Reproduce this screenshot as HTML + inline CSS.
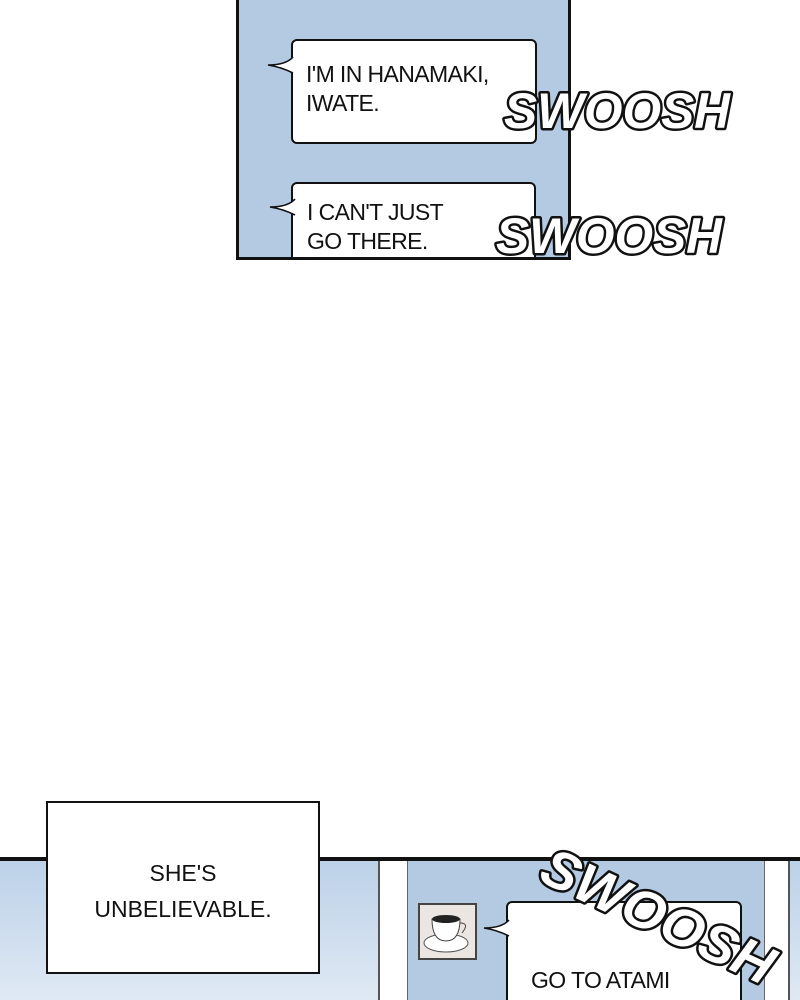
<!DOCTYPE html>
<html><head><meta charset="utf-8"><style>
html,body{margin:0;width:800px;height:1000px;overflow:hidden}
body{background:#fff;position:relative;font-family:"Liberation Sans",sans-serif}
.a{position:absolute}
.bub{position:absolute;background:#fff;border:2px solid #111;border-radius:6px;box-sizing:border-box}
.t{position:absolute;font-size:23px;color:#111;line-height:29px;letter-spacing:-0.6px}
.sw{font-family:"Liberation Sans",sans-serif;font-weight:900;font-style:italic;fill:#fff;stroke:#111;stroke-width:5;stroke-linejoin:round;paint-order:stroke}
</style></head><body>
<!-- top panel -->
<div class="a" style="left:236px;top:-4px;width:335px;height:264px;background:#b3cae2;border:3px solid #111;box-sizing:border-box;overflow:hidden">
  <div class="bub" style="left:52px;top:183px;width:245px;height:90px"></div>
</div>
<div class="bub" style="left:291px;top:39px;width:246px;height:105px"></div>
<svg class="a" style="left:266px;top:55px" width="30" height="20"><path d="M27 2 Q20 10 2 10 Q15 12 27 18" fill="#fff" stroke="#111" stroke-width="1.6"/></svg>
<div class="t" style="left:306px;top:60px">I'M IN HANAMAKI,<br>IWATE.</div>
<svg class="a" style="left:268px;top:197px" width="30" height="20"><path d="M27 2 Q20 10 2 10 Q15 12 27 18" fill="#fff" stroke="#111" stroke-width="1.6"/></svg>
<div class="t" style="left:307px;top:198px">I CAN'T JUST<br>GO THERE.</div>
<svg class="a" style="left:0;top:0" width="800" height="1000">
<text x="504" y="128" class="sw" font-size="50" textLength="226" lengthAdjust="spacingAndGlyphs">SWOOSH</text>
<text x="496" y="253" class="sw" font-size="50" textLength="226" lengthAdjust="spacingAndGlyphs">SWOOSH</text>
</svg>
<!-- bottom panel -->
<div class="a" style="left:0;top:860px;width:800px;height:140px;background:linear-gradient(180deg,#bcd1e8,#dfe9f4)"></div>
<div class="a" style="left:0;top:857px;width:800px;height:4px;background:#111"></div>
<div class="a" style="left:378px;top:861px;width:412px;height:139px;background:#fff;border-left:2px solid #555;border-right:2px solid #555;box-sizing:border-box"></div>
<div class="a" style="left:407px;top:861px;width:358px;height:139px;background:#b3cae2;border-left:1px solid #666;border-right:1px solid #666;box-sizing:border-box;overflow:hidden">
  <div class="bub" style="left:98px;top:40px;width:236px;height:120px"></div>
</div>
<div class="a" style="left:418px;top:903px;width:59px;height:57px;background:#ece6e3;border:2px solid #444;box-sizing:border-box"></div>
<svg class="a" style="left:420px;top:905px" width="55" height="53"><ellipse cx="26" cy="38" rx="22" ry="9" fill="#fff" stroke="#555"/><path d="M12 14 Q12 36 26 36 Q40 36 40 14Z" fill="#fff" stroke="#444"/><ellipse cx="26" cy="14" rx="14" ry="4" fill="#222"/><path d="M40 18 Q50 18 42 28" fill="none" stroke="#444"/></svg>
<svg class="a" style="left:482px;top:918px" width="30" height="20"><path d="M27 2 Q20 10 2 10 Q15 12 27 18" fill="#fff" stroke="#111" stroke-width="1.6"/></svg>
<div class="t" style="left:531px;top:966px">GO TO ATAMI</div>
<svg class="a" style="left:0;top:0" width="800" height="1000">
<text x="0" y="0" class="sw" font-size="54" transform="translate(537,880) rotate(25)" textLength="250" lengthAdjust="spacingAndGlyphs">SWOOSH</text>
</svg>
<div class="a" style="left:46px;top:801px;width:274px;height:173px;background:#fff;border:2px solid #111;box-sizing:border-box"></div>
<div class="a" style="left:46px;top:855px;width:274px;text-align:center;font-size:23px;line-height:36px;color:#111">SHE'S<br>UNBELIEVABLE.</div>
</body></html>
